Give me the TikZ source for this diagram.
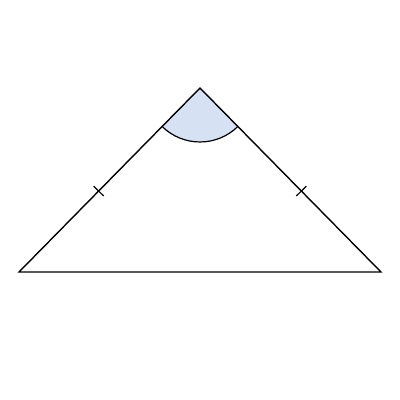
\documentclass[tikz,border=0pt]{standalone}
\usetikzlibrary{calc}
\definecolor{anglefill}{RGB}{214,226,243}
\tikzset{edge/.style={line width=1.4pt, line join=miter},
  tick/.style={line width=1.2pt},
  anglemark/.style={line width=1.2pt}}
\begin{document}
\begin{tikzpicture}[x=1pt,y=-1pt]
\useasboundingbox (0,0) rectangle (400,400);
\coordinate (A) at (200,88);
\coordinate (B) at (19,272);
\coordinate (C) at (381,272);
\fill[anglefill] (A) -- ($(A)!54pt!(B)$) arc[start angle=134.5, end angle=45.5, radius=54] -- cycle;
\draw[anglemark] ($(A)!54pt!(B)$) arc[start angle=134.5, end angle=45.5, radius=54];
\draw[edge] (A) -- (B) -- (C) -- cycle;
\coordinate (M1) at ($(A)!0.56!(B)$);
\coordinate (M2) at ($(A)!0.56!(C)$);
\draw[tick] ($(M1)!7pt!90:(A)$) -- ($(M1)!7pt!-90:(A)$);
\draw[tick] ($(M2)!7pt!90:(A)$) -- ($(M2)!7pt!-90:(A)$);
\end{tikzpicture}
\end{document}
